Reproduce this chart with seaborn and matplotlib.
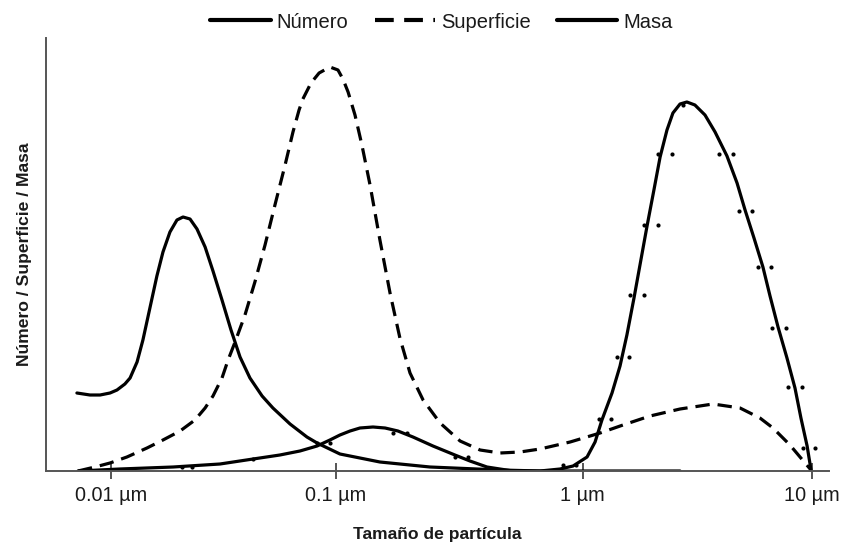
import numpy as np
import pandas as pd
import matplotlib
matplotlib.use("Agg")
import matplotlib.pyplot as plt
import seaborn as sns

# ---------------- data (x as log10 of particle size in µm, y in arbitrary units) ----------------
numero_logx = [-2.150, -2.092, -2.047, -2.003, -1.972, -1.937, -1.914, -1.883, -1.857, -1.826,
               -1.795, -1.768, -1.737, -1.706, -1.679, -1.648, -1.617, -1.581, -1.546, -1.506,
               -1.466, -1.426, -1.382, -1.328, -1.280, -1.204, -1.129, -1.084, -0.984, -0.822,
               -0.619, -0.335, -0.173, 0.425]
numero_y = [78, 76, 76, 78, 81, 87, 93, 109, 131, 163,
            195, 219, 239, 251, 254, 252, 242, 224, 200, 171,
            141, 114, 93, 75, 63, 47, 34, 28, 17, 9,
            4, 1, 0, 0]

superficie_logx = [-2.145, -2.070, -2.003, -1.928, -1.839, -1.768, -1.692, -1.626, -1.581, -1.546,
                   -1.506, -1.479, -1.448, -1.404, -1.360, -1.315, -1.271, -1.226, -1.191, -1.164,
                   -1.147, -1.111, -1.075, -1.027, -0.992, -0.972, -0.951, -0.923, -0.895, -0.862,
                   -0.822, -0.781, -0.741, -0.700, -0.647, -0.578, -0.497, -0.416, -0.335, -0.254,
                   -0.173, -0.051, 0.076, 0.176, 0.294, 0.425, 0.569, 0.687, 0.774, 0.831,
                   0.905, 0.949, 0.997]
superficie_y = [0, 4, 8, 14, 23, 31, 40, 51, 63, 75,
                93, 111, 129, 156, 189, 226, 266, 306, 339, 361,
                372, 388, 398, 404, 401, 392, 379, 356, 326, 286,
                231, 178, 133, 98, 71, 48, 30, 21, 18, 19,
                22, 29, 38, 46, 55, 62, 67, 63, 53, 43,
                26, 14, 1]

masa_logx = [-2.145, -1.959, -1.723, -1.515, -1.368, -1.249, -1.160, -1.084, -1.027, -0.984,
             -0.943, -0.903, -0.850, -0.801, -0.749, -0.688, -0.607, -0.518, -0.457, -0.388,
             -0.283, -0.173, -0.092, -0.039, 0.019, 0.054, 0.084, 0.128, 0.163, 0.193,
             0.224, 0.281, 0.311, 0.338, 0.368, 0.394, 0.425, 0.455, 0.490, 0.534,
             0.578, 0.630, 0.674, 0.709, 0.748, 0.787, 0.818, 0.853, 0.892, 0.927,
             0.953, 0.980, 0.997]
masa_y = [0, 2, 4, 7, 12, 16, 20, 25, 31, 36,
          40, 43, 44, 43, 40, 34, 25, 16, 10, 4,
          0, 0, 2, 5, 14, 29, 51, 78, 105, 136,
          173, 245, 281, 314, 341, 358, 367, 369, 366, 356,
          339, 315, 288, 261, 233, 204, 175, 144, 113, 83,
          53, 25, 1]

puntos_logx = [0.329, 0.390, 0.595, 0.656, 0.683, 0.739, 0.268, 0.329, 0.766, 0.822,
               0.207, 0.268, 0.827, 0.888, 0.150, 0.202, 0.897, 0.958, 0.071, 0.124,
               0.962, 1.014, -0.080, -0.027, 0.438,
               -1.684, -1.639, -1.368, -1.084, -1.027, -0.769, -0.712, -0.518, -0.465]
puntos_y = [317, 317, 317, 317, 260, 260, 246, 246, 204, 204,
            176, 176, 143, 143, 114, 114, 84, 84, 52, 52,
            23, 23, 6, 6, 366,
            4, 4, 12, 28, 28, 38, 38, 14, 14]

tick_values = [0.01, 0.1, 1, 10]
tick_labels = ["0.01 µm", "0.1 µm", "1 µm", "10 µm"]
series_labels = ["Número", "Superficie", "Masa"]

# ---------------- scale (original axis is a hand-drawn log axis) ----------------
_kL = np.array([-2.0, -1.0, 0.0, 1.0])
_kP = np.array([110.7, 336.0, 582.7, 811.7])


def fwd(x):
    x = np.asarray(x, dtype=float)
    L = np.log10(np.clip(x, 1e-12, None))
    out = np.interp(L, _kL, _kP)
    lo = L < _kL[0]
    hi = L > _kL[-1]
    out = np.where(lo, _kP[0] + (L - _kL[0]) * (_kP[1] - _kP[0]), out)
    out = np.where(hi, _kP[-1] + (L - _kL[-1]) * (_kP[-1] - _kP[-2]), out)
    return out


def inv(p):
    p = np.asarray(p, dtype=float)
    L = np.interp(p, _kP, _kL)
    lo = p < _kP[0]
    hi = p > _kP[-1]
    L = np.where(lo, _kL[0] + (p - _kP[0]) / (_kP[1] - _kP[0]), L)
    L = np.where(hi, _kL[-1] + (p - _kP[-1]) / (_kP[-1] - _kP[-2]), L)
    return 10.0 ** L


# ---------------- style ----------------
sns.set_theme(style="white")
plt.rcParams["font.family"] = ["Liberation Sans", "DejaVu Sans"]
plt.rcParams["lines.solid_joinstyle"] = "round"
plt.rcParams["lines.dash_joinstyle"] = "round"
text_color = "#1a1a1a"
spine_color = "#555555"

W, H = 851, 554
fig = plt.figure(figsize=(W / 100, H / 100), dpi=100)
ax = fig.add_axes([46 / W, 1 - 471 / H, (829 - 46) / W, (471 - 38) / H])
ax.set_xscale("function", functions=(fwd, inv))

df_n = pd.DataFrame({"x": 10 ** np.array(numero_logx), "y": numero_y})
df_s = pd.DataFrame({"x": 10 ** np.array(superficie_logx), "y": superficie_y})
df_m = pd.DataFrame({"x": 10 ** np.array(masa_logx), "y": masa_y})
df_p = pd.DataFrame({"x": 10 ** np.array(puntos_logx), "y": puntos_y})

lw = 2.3
sns.lineplot(data=df_n, x="x", y="y", ax=ax, color="black", lw=lw, estimator=None,
             sort=False, label=series_labels[0])
sns.lineplot(data=df_s, x="x", y="y", ax=ax, color="black", lw=lw, estimator=None,
             sort=False, label=series_labels[1], linestyle=(0, (4.5, 2.5)))
sns.lineplot(data=df_m, x="x", y="y", ax=ax, color="black", lw=lw, estimator=None,
             sort=False, label=series_labels[2])
sns.scatterplot(data=df_p, x="x", y="y", ax=ax, color="black", s=9, linewidth=0,
                legend=False, zorder=3)

ax.set_xlim(inv(46), inv(829))
ax.set_ylim(0, 433)

for s in ["top", "right"]:
    ax.spines[s].set_visible(False)
for s in ["left", "bottom"]:
    ax.spines[s].set_color(spine_color)
    ax.spines[s].set_linewidth(1.4)

ax.set_xticks(tick_values)
ax.set_xticklabels(tick_labels)
ax.xaxis.set_minor_locator(matplotlib.ticker.NullLocator())
ax.set_yticks([])
ax.tick_params(axis="x", direction="inout", length=12, width=1.4, color=spine_color,
               labelsize=14.3, labelcolor=text_color, pad=5, bottom=True)

ax.set_xlabel("Tamaño de partícula", fontsize=12.6, fontweight="bold",
              color=text_color, labelpad=16)
ax.set_ylabel("Número / Superficie / Masa", fontsize=12.6, fontweight="bold",
              color=text_color, labelpad=10)

handles, labels = ax.get_legend_handles_labels()
if ax.get_legend() is not None:
    ax.get_legend().remove()
leg = fig.legend(handles, labels, loc="center", bbox_to_anchor=(441.5 / W, 1 - 22 / H),
                 ncol=3, frameon=False, fontsize=14.5, handlelength=3.0,
                 handletextpad=0.3, columnspacing=1.3, borderpad=0)
for t in leg.get_texts():
    t.set_color(text_color)
for h in leg.get_lines():
    h.set_linewidth(3.0)

fig.savefig("out.png", dpi=100)
